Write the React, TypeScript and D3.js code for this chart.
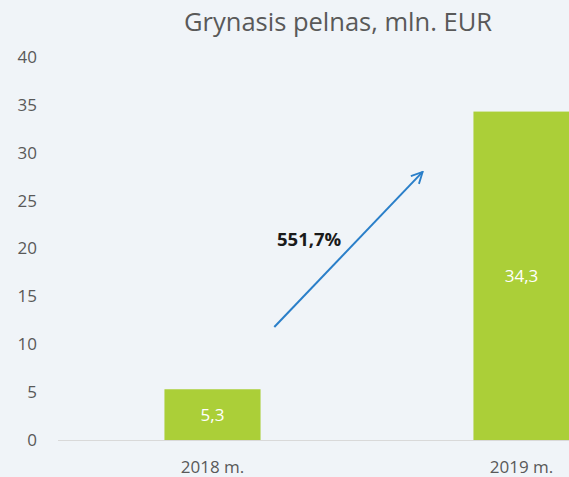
import { useEffect, useRef } from 'react';
import * as d3 from 'd3';

const categories = ['2018 m.', '2019 m.'];
const values = [5.3, 34.3];
const valueLabels = ['5,3', '34,3'];
const yTicks = [0, 5, 10, 15, 20, 25, 30, 35, 40];
const growthLabel = '551,7%';
// arrow start/end in data terms: [band offset (0..1 between bar centers), value]
const arrowFrom = [0.2, 11.8];
const arrowTo = [0.68, 28];

export default function App() {
    const svgRef = useRef<SVGSVGElement>(null);

    useEffect(() => {
        if (!svgRef.current) return;
        const svg = d3.select(svgRef.current);
        svg.selectAll('*').remove();

        const width = 569;
        const height = 477;
        const font = 'Open Sans, Noto Sans, sans-serif';
        const grey = '#595959';

        svg.attr('width', width).attr('height', height);
        svg.append('rect').attr('width', width).attr('height', height).attr('fill', '#f0f4f8');

        const y = d3.scaleLinear().domain([0, 40]).range([440, 57]);
        const x = d3.scaleBand<string>()
            .domain(categories)
            .range([58, 676])
            .paddingInner(0.689)
            .paddingOuter(0.3445);

        // title
        svg.append('text')
            .attr('x', 338)
            .attr('y', 31)
            .attr('text-anchor', 'middle')
            .style('font-family', font)
            .style('font-size', '25.5px')
            .style('fill', grey)
            .text('Grynasis pelnas, mln. EUR');

        // y tick labels
        svg.append('g')
            .selectAll('text')
            .data(yTicks)
            .join('text')
            .attr('x', 37)
            .attr('y', d => y(d))
            .attr('dy', '0.35em')
            .attr('text-anchor', 'end')
            .style('font-family', font)
            .style('font-size', '17px')
            .style('fill', grey)
            .text(d => d);

        // baseline
        svg.append('line')
            .attr('x1', 58)
            .attr('x2', width)
            .attr('y1', y(0) + 0.5)
            .attr('y2', y(0) + 0.5)
            .attr('stroke', '#d9d9d9')
            .attr('stroke-width', 1);

        // bars
        svg.append('g')
            .selectAll('rect')
            .data(values)
            .join('rect')
            .attr('x', (d, i) => x(categories[i])!)
            .attr('y', d => y(d))
            .attr('width', x.bandwidth())
            .attr('height', d => y(0) - y(d))
            .attr('fill', '#abcf38');

        // bar value labels
        svg.append('g')
            .selectAll('text')
            .data(values)
            .join('text')
            .attr('x', (d, i) => x(categories[i])! + x.bandwidth() / 2)
            .attr('y', d => (y(d) + y(0)) / 2)
            .attr('dy', '0.35em')
            .attr('text-anchor', 'middle')
            .style('font-family', font)
            .style('font-size', '17px')
            .style('fill', '#ffffff')
            .text((d, i) => valueLabels[i]);

        // category labels
        svg.append('g')
            .selectAll('text')
            .data(categories)
            .join('text')
            .attr('x', d => x(d)! + x.bandwidth() / 2)
            .attr('y', 473)
            .attr('text-anchor', 'middle')
            .style('font-family', font)
            .style('font-size', '17px')
            .style('fill', grey)
            .text(d => d);

        // growth arrow
        const c0 = x(categories[0])! + x.bandwidth() / 2;
        const c1 = x(categories[1])! + x.bandwidth() / 2;
        const ax = (t: number) => c0 + t * (c1 - c0);
        const x1 = ax(arrowFrom[0]), y1 = y(arrowFrom[1]);
        const x2 = ax(arrowTo[0]), y2 = y(arrowTo[1]);

        const defs = svg.append('defs');
        defs.append('marker')
            .attr('id', 'arrowhead')
            .attr('viewBox', '0 0 10 10')
            .attr('refX', 9)
            .attr('refY', 5)
            .attr('markerWidth', 7)
            .attr('markerHeight', 7)
            .attr('orient', 'auto')
            .append('path')
            .attr('d', 'M1,1 L9,5 L1,9')
            .attr('fill', 'none')
            .attr('stroke', '#2a7fc9')
            .attr('stroke-width', 1.3);

        svg.append('line')
            .attr('x1', x1)
            .attr('y1', y1)
            .attr('x2', x2)
            .attr('y2', y2)
            .attr('stroke', '#2a7fc9')
            .attr('stroke-width', 2)
            .attr('marker-end', 'url(#arrowhead)');

        svg.append('text')
            .attr('x', 277)
            .attr('y', 246)
            .style('font-family', font)
            .style('font-size', '18.5px')
            .style('font-weight', 'bold')
            .style('fill', '#1a1a1a')
            .text(growthLabel);
    }, []);

    return (
        <div style={{ position: 'fixed', left: 0, top: 0 }}>
            <svg ref={svgRef} style={{ display: 'block' }}></svg>
        </div>
    );
}
